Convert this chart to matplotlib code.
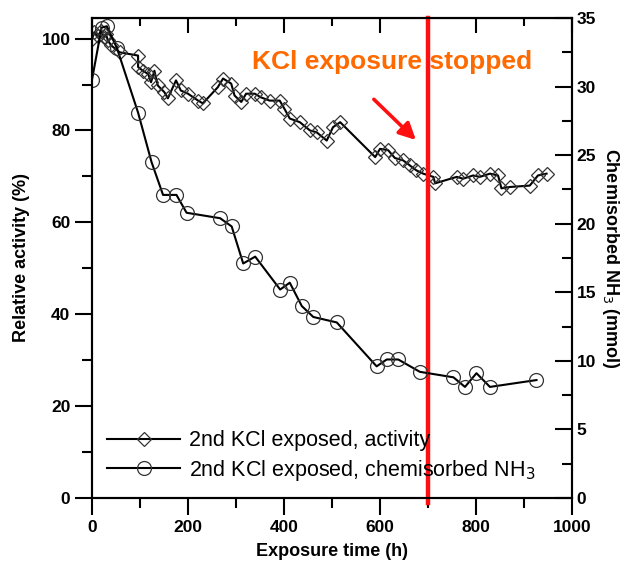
import numpy as np
import matplotlib
matplotlib.use("Agg")
import matplotlib.pyplot as plt
from matplotlib.ticker import MultipleLocator

plt.rcParams['font.family'] = ['Liberation Sans', 'DejaVu Sans']

# activity (left axis, %)
act_t = [0, 5, 12, 19, 25, 29, 33, 40, 58, 96, 96, 106, 117, 123, 130, 137, 151, 158,
         175, 185, 200, 221, 231, 262, 273, 290, 297, 311, 321, 339, 352, 370, 391,
         401, 412, 433, 454, 468, 489, 502, 517, 590, 600, 617, 631, 648, 662, 676,
         690, 711, 715, 760, 773, 794, 808, 829, 846, 853, 871, 912, 929, 947]
act_y = [100, 101.4, 100.5, 101.7, 100.3, 101, 99.6, 98.5, 97, 96.3, 93.8, 93, 92.3,
         90.5, 93, 89.8, 88.3, 87, 90.9, 88.7, 88, 86.5, 85.9, 89.4, 91.3, 90.2, 87.6,
         86.2, 88, 88, 87.2, 86.5, 86.5, 84.7, 82.6, 81.8, 80, 79.6, 77.8, 80.7, 81.8,
         74.2, 76, 75.7, 74, 73.5, 72.4, 71.3, 70.6, 69.9, 68.5, 69.9, 69.5, 70.2, 69.9,
         70.6, 70.2, 67.4, 67.7, 68, 70.2, 70.6]

# chemisorbed NH3 (right axis, mmol)
nh3_t = [0, 20, 31, 52, 96, 124, 148, 176, 197, 267, 291, 315, 340, 392, 412, 437,
         461, 510, 593, 614, 638, 683, 753, 777, 801, 829, 926]
nh3_y = [30.5, 34.3, 34.4, 32.8, 28.1, 24.5, 22.1, 22.1, 20.8, 20.4, 19.8, 17.1, 17.6,
         15.2, 15.7, 14.0, 13.2, 12.8, 9.6, 10.1, 10.1, 9.2, 8.8, 8.1, 9.1, 8.1, 8.6]

stop_time = 700

fig = plt.figure(figsize=(6.32, 5.68), dpi=100)
ax = fig.add_axes([92 / 632, 1 - 498 / 568, 480 / 632, 480 / 568])
ax2 = ax.twinx()

l1, = ax.plot(act_t, act_y, color='black', lw=1.5, marker='D', ms=7,
              mfc='none', mec='#333333', mew=0.9, label='2nd KCl exposed, activity')
l2, = ax2.plot(nh3_t, nh3_y, color='black', lw=1.5, marker='o', ms=10,
               mfc='none', mec='#333333', mew=0.9,
               label='2nd KCl exposed, chemisorbed NH$_3$')

ax.set_xlim(0, 1000)
ax.set_ylim(0, 35 * 100 / 33.5)
ax2.set_ylim(0, 35)

ax.axvline(stop_time, ymin=-0.01, color='#ff1010', lw=3.2, zorder=5, clip_on=False)
ax.annotate('', xy=(679, 77.5), xytext=(583, 87.2),
            arrowprops=dict(arrowstyle='-|>,head_width=0.5,head_length=1.0',
                            color='#ff1010', lw=2.6))
ax.text(625, 94.8, 'KCl exposure stopped', color='#ff6a00', fontsize=19,
        fontweight='bold', ha='center', va='center')

ax.xaxis.set_major_locator(MultipleLocator(200))
ax.xaxis.set_minor_locator(MultipleLocator(100))
ax.yaxis.set_major_locator(MultipleLocator(20))
ax.yaxis.set_minor_locator(MultipleLocator(10))
ax2.yaxis.set_major_locator(MultipleLocator(5))
ax2.yaxis.set_minor_locator(MultipleLocator(2.5))

ax.tick_params(which='both', direction='out', width=1.5, labelsize=12.5, top=False)
ax.tick_params(which='major', length=12)
ax.tick_params(which='minor', length=7)
ax2.tick_params(which='both', direction='in', width=1.5, labelsize=12.5)
ax2.tick_params(which='major', length=12)
ax2.tick_params(which='minor', length=7)

top = ax.secondary_xaxis('top')
top.xaxis.set_major_locator(MultipleLocator(200))
top.xaxis.set_minor_locator(MultipleLocator(100))
top.tick_params(which='both', direction='in', width=1.5, labeltop=False)
top.tick_params(which='major', length=11)
top.tick_params(which='minor', length=6)

for a in (ax, ax2):
    for s in a.spines.values():
        s.set_linewidth(1.5)
    for lab in a.get_xticklabels() + a.get_yticklabels():
        lab.set_fontweight('bold')

ax.set_xlabel('Exposure time (h)', fontsize=13, fontweight='bold', labelpad=6)
ax.set_ylabel('Relative activity (%)', fontsize=13, fontweight='bold', labelpad=8)
ax2.set_ylabel('Chemisorbed NH$_3$ (mmol)', fontsize=13, fontweight='bold',
               rotation=270, labelpad=18)

ax2.legend(handles=[l1, l2], loc='lower left', bbox_to_anchor=(0.0, 0.0),
           frameon=False, fontsize=15.5, handlelength=3.4, handletextpad=0.4,
           labelspacing=0.3, borderaxespad=0.3)

fig.savefig('out.png', dpi=100)
